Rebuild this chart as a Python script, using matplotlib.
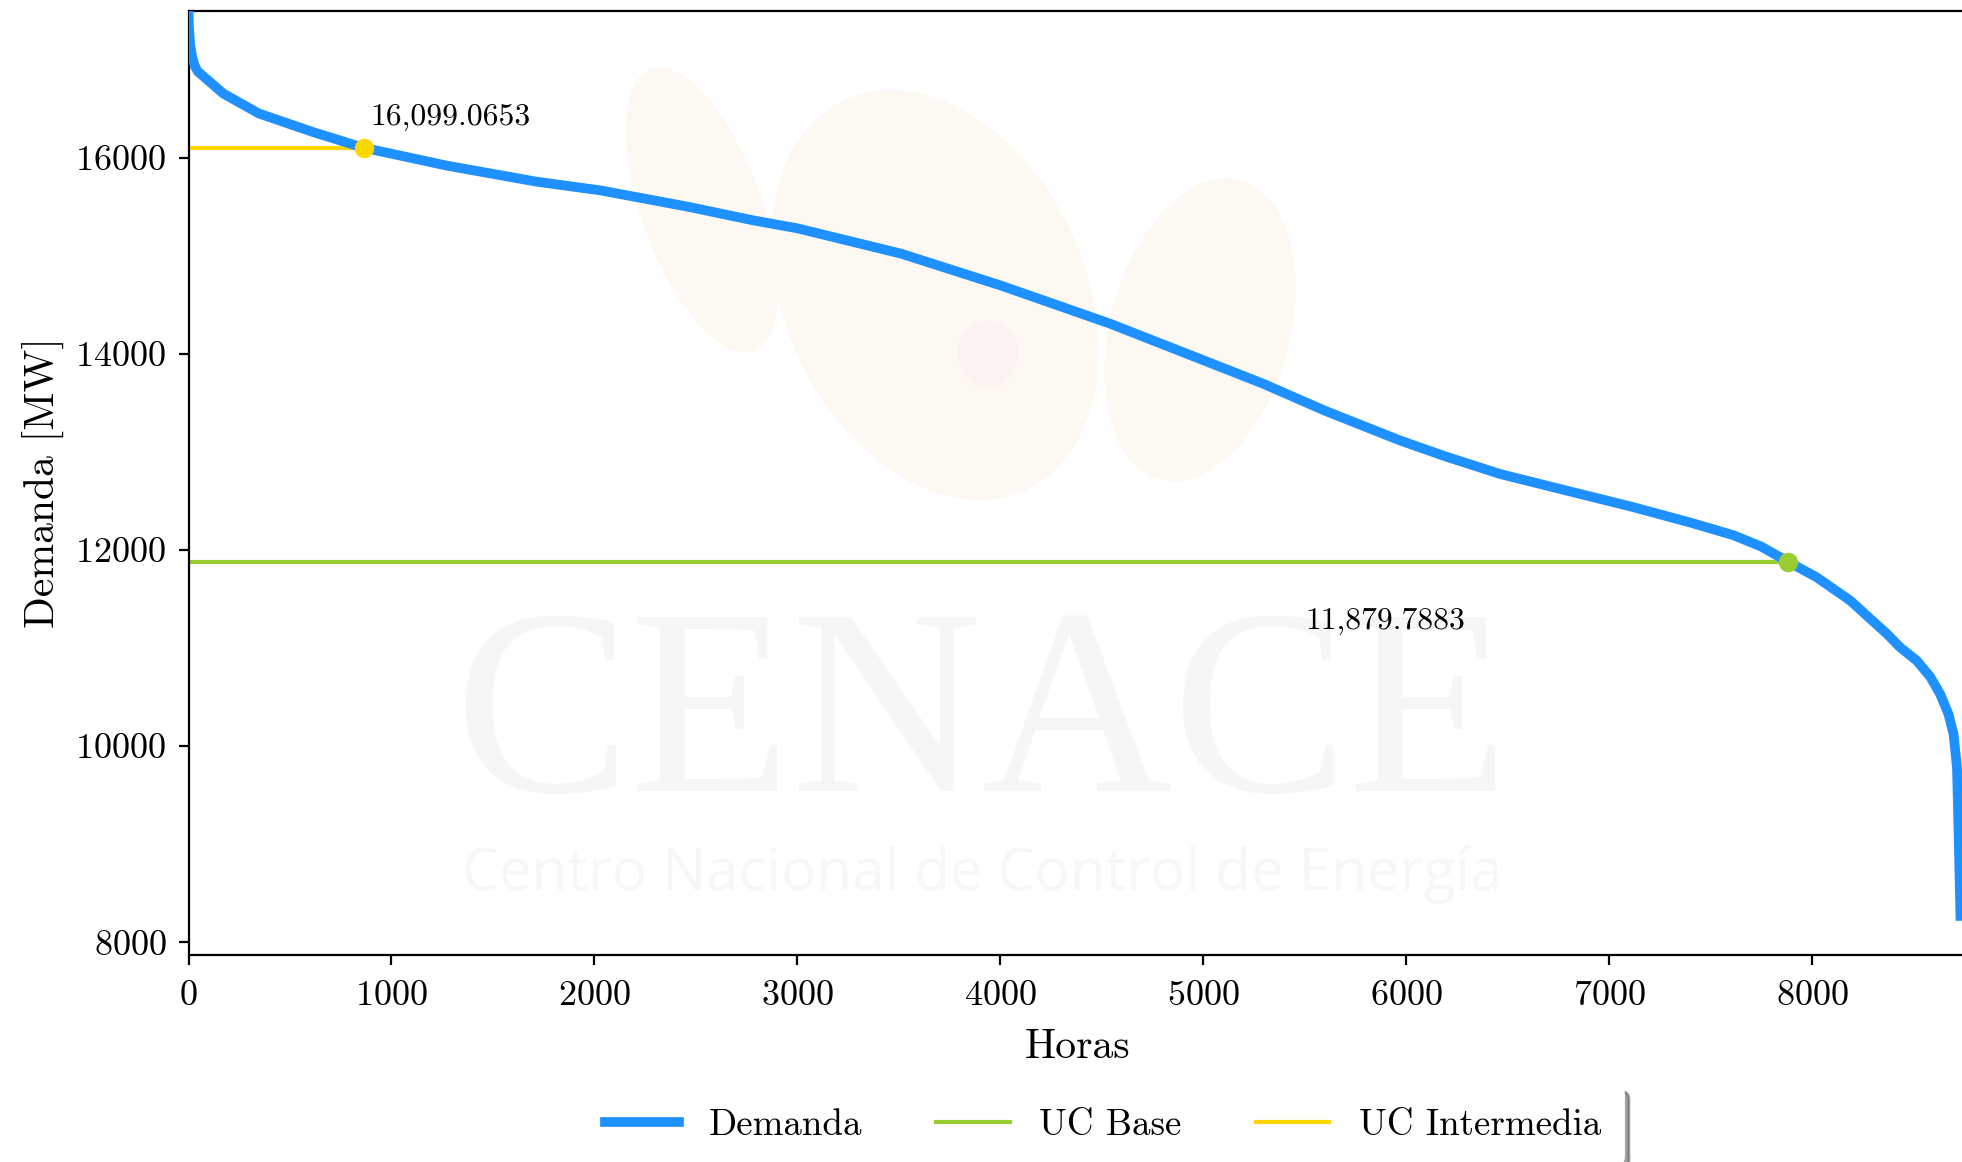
import matplotlib
matplotlib.use('Agg')
import matplotlib.pyplot as plt
from matplotlib.patches import Ellipse

plt.rcParams['font.family'] = 'cmr10'
plt.rcParams['mathtext.fontset'] = 'cm'
plt.rcParams['axes.formatter.use_mathtext'] = True

# curva de duracion de carga
horas = [0, 2, 8, 18, 30, 45, 84, 171, 347, 612, 865, 983, 1272, 1713, 2028,
         2463, 2782, 3000, 3512, 4005, 4542, 5045, 5296, 5600, 5971, 6200,
         6463, 6800, 7121, 7400, 7614, 7750, 7883, 8024, 8189, 8370, 8435,
         8517, 8583, 8632, 8673, 8698, 8715, 8723, 8732]
demanda = [17490, 17330, 17150, 17028, 16940, 16880, 16810, 16654, 16450,
           16262, 16099, 16048, 15919, 15756, 15667, 15499, 15361, 15280,
           15021, 14695, 14307, 13899, 13695, 13420, 13116, 12950, 12775,
           12601, 12436, 12280, 12150, 12035, 11880, 11721, 11484, 11144,
           11007, 10871, 10707, 10532, 10327, 10123, 9783, 9103, 8269]

# puntos de corte de las unidades
base_h, base_mw = 7883, 11879.7883
inter_h, inter_mw = 865, 16099.0653

azul = '#1E90FF'
verde = '#9ACD32'
amarillo = '#FFD700'

fig = plt.figure(figsize=(9.81, 5.81), dpi=200)

# marca de agua (coordenadas en pixeles)
bg = fig.add_axes([0, 0, 1, 1], zorder=0)
bg.set_xlim(0, 1962)
bg.set_ylim(1162, 0)
bg.axis('off')
logo = '#fdf8f2'
bg.add_patch(Ellipse((702, 210), 120, 300, angle=-20, color=logo, lw=0))
bg.add_patch(Ellipse((935, 295), 300, 430, angle=-25, color=logo, lw=0))
bg.add_patch(Ellipse((1200, 330), 180, 310, angle=15, color=logo, lw=0))
bg.add_patch(Ellipse((988, 354), 60, 66, color='#fcf2f2', lw=0))
bg.text(982, 727, 'CENACE', family='Liberation Serif', fontsize=95,
        color='#f6f6f6', ha='center', va='center')
bg.text(982, 875, 'Centro Nacional de Control de Energía', family='Open Sans',
        fontsize=21, color='#f7f7f7', ha='center', va='center')

ax = fig.add_axes([0.0961, 0.1781, 0.906, 0.8124], zorder=1)
ax.patch.set_alpha(0)

ax.plot(horas, demanda, color=azul, lw=3.5, label='Demanda', zorder=3)
ax.plot([0, base_h], [base_mw, base_mw], color=verde, lw=1.5, label='UC Base', zorder=2)
ax.plot([0, inter_h], [inter_mw, inter_mw], color=amarillo, lw=1.5,
        label='UC Intermedia', zorder=2)
ax.plot(base_h, base_mw, 'o', color=verde, ms=6, zorder=4)
ax.plot(inter_h, inter_mw, 'o', color=amarillo, ms=6, zorder=4)

ax.annotate('{:,.4f}'.format(inter_mw), (inter_h, inter_mw), xytext=(2.2, 8.2),
            textcoords='offset points', fontsize=11.4, va='baseline')
ax.annotate('{:,.4f}'.format(base_mw), (base_h, base_mw), xytext=(-174, -24.2),
            textcoords='offset points', fontsize=11.4, va='baseline')

ax.set_xlim(0, 8760)
ax.set_ylim(7870, 17495)
ax.set_xticks(range(0, 9000, 1000))
ax.set_yticks(range(8000, 18000, 2000))
ax.tick_params(labelsize=13)
ax.tick_params(axis='x', pad=5.7)
ax.tick_params(axis='y', pad=4.5)
ax.set_xlabel('Horas', fontsize=15, labelpad=6)
ax.set_ylabel('Demanda [MW]', fontsize=15)

ax.legend(loc='upper center', bbox_to_anchor=(0.5145, -0.1193), ncol=3,
          fontsize=13.3, shadow=True, edgecolor='white', framealpha=1,
          borderpad=0.6)

fig.savefig('out.png', dpi=200)
